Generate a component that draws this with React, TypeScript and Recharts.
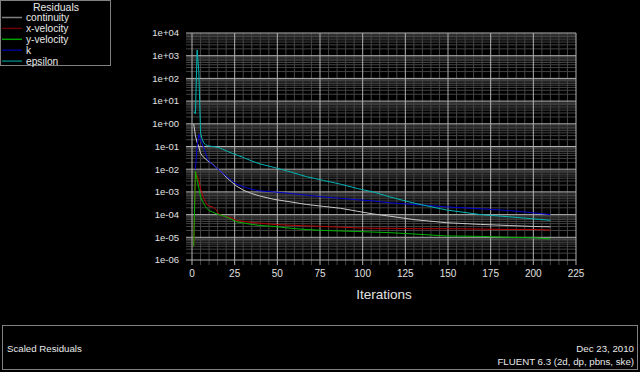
import React from 'react';
import { LineChart, Line, XAxis, YAxis, ReferenceLine, Label } from 'recharts';

const iterations = [1, 2, 3, 4, 5, 6, 7, 8, 9, 10, 12, 14, 16, 18, 20, 23, 26, 30, 35, 40, 48, 58, 67, 77, 87, 97, 106, 116, 130, 149, 169, 186, 200, 210];
const continuity = [1.0, 0.3, 0.15, 0.1, 0.05, 0.04, 0.032, 0.028, 0.024, 0.021, 0.017, 0.012, 0.009, 0.0065, 0.0045, 0.0028, 0.0018, 0.0012, 0.00085, 0.00065, 0.00047, 0.00036, 0.00028, 0.00023, 0.00019, 0.00014, 0.000107, 0.000085, 0.00006, 0.000044, 0.000037, 0.000033, 0.00003, 0.000029];
const xVelocity = [4e-6, 0.0078, 0.005, 0.0033, 0.0014, 0.0008, 0.0005, 0.00035, 0.00026, 0.00024, 0.00022, 0.00017, 0.0001, 0.00009, 0.00008, 0.000074, 0.000056, 0.00005, 0.000045, 0.000042, 0.000037, 0.000034, 0.000032, 0.00003, 0.000028, 0.000026, 0.000025, 0.000025, 0.000024, 0.000024, 0.000023, 0.000022, 0.000022, 0.000021];
const yVelocity = [4e-6, 0.008, 0.0035, 0.0015, 0.0006, 0.0004, 0.0003, 0.00022, 0.00018, 0.00015, 0.00013, 0.00011, 0.0001, 0.00009, 0.00008, 0.000062, 0.000048, 0.000043, 0.000037, 0.000033, 0.00003, 0.000025, 0.000022, 0.00002, 0.000019, 0.000018, 0.000017, 0.000016, 0.000014, 0.0000115, 0.000011, 0.00001, 0.0000095, 0.0000085];
const kValues = [null, 0.01, 0.1, 0.35, 0.2, 0.13, 0.085, 0.05, 0.03, 0.022, 0.016, 0.012, 0.009, 0.0066, 0.005, 0.0033, 0.0022, 0.0017, 0.0013, 0.0011, 0.001, 0.00085, 0.00072, 0.0006, 0.00052, 0.00045, 0.0004, 0.00033, 0.00028, 0.00022, 0.00018, 0.00015, 0.00012, 0.0001];
const epsilon = [3.5, 2.8, 1800, 200, 0.4, 0.2, 0.14, 0.12, 0.11, 0.105, 0.1, 0.095, 0.088, 0.075, 0.065, 0.052, 0.043, 0.033, 0.023, 0.017, 0.012, 0.0075, 0.0047, 0.0032, 0.0022, 0.0014, 0.001, 0.0006, 0.00032, 0.00016, 0.0001, 0.00008, 0.000065, 0.000056];

const seriesNames = ['continuity', 'x-velocity', 'y-velocity', 'k', 'epsilon'];
const seriesValues = [continuity, xVelocity, yVelocity, kValues, epsilon];
const seriesColors = ['#c8c8c8', '#b40000', '#00b400', '#0000d0', '#00b4b4'];
const legendColors = ['#808080', '#6a0000', '#00a000', '#000090', '#007878'];

const xTicks = [0, 25, 50, 75, 100, 125, 150, 175, 200, 225];
const xMinor = Array.from({ length: 46 }, (_, i) => i * 5).filter((v) => v % 25 !== 0);
const yTicks = [1e-6, 1e-5, 1e-4, 1e-3, 1e-2, 1e-1, 1e0, 1e1, 1e2, 1e3, 1e4];
const yMinor: number[] = [];
yTicks.slice(0, -1).forEach((d) => {
  for (let m = 2; m <= 9; m++) yMinor.push(d * m);
});

const data = iterations.map((it, i) => {
  const row: Record<string, number | null> = { iter: it };
  seriesNames.forEach((n, s) => {
    row[n] = seriesValues[s][i];
  });
  return row;
});

const fmt = (v: number) => {
  const e = Math.round(Math.log10(v));
  return `1e${e < 0 ? '-' : '+'}${String(Math.abs(e)).padStart(2, '0')}`;
};

const FONT = '"Liberation Sans", Arial, sans-serif';
const MAJOR = '#b0b0b0';
const MINOR = '#444444';

export default function App() {
  return (
    <div style={{ position: 'absolute', left: 0, top: 0, width: 640, height: 372, background: '#000', overflow: 'hidden' }}>
      <LineChart
        width={640}
        height={372}
        data={data}
        margin={{ top: 33, right: 64, bottom: 82, left: 132 }}
        style={{ position: 'absolute', left: 0, top: 0 }}
      >
        <XAxis
          dataKey="iter"
          type="number"
          domain={[0, 225]}
          ticks={xTicks}
          allowDataOverflow
          axisLine={false}
          tickLine={false}
          tickSize={6}
          tickMargin={4}
          height={30}
          tick={{ fill: '#e0e0e0', fontSize: 10, fontFamily: FONT }}
        >
          <Label value="Iterations" position="insideBottom" offset={-9} fill="#e0e0e0" fontSize={13.5} fontFamily={FONT} />
        </XAxis>
        <YAxis
          type="number"
          scale="log"
          domain={[1e-6, 1e4]}
          ticks={yTicks}
          allowDataOverflow
          axisLine={false}
          tickLine={false}
          tickSize={6}
          tickMargin={7}
          width={60}
          tickFormatter={fmt}
          tick={{ fill: '#e0e0e0', fontSize: 9.5, fontFamily: FONT }}
        />
        {yMinor.map((v) => (
          <ReferenceLine key={`ym${v}`} segment={[{ x: -3.5, y: v }, { x: 225, y: v }]} ifOverflow="visible" stroke={MINOR} strokeWidth={1} zIndex={-60} />
        ))}
        {xMinor.map((v) => (
          <ReferenceLine key={`xm${v}`} segment={[{ x: v, y: 6e-7 }, { x: v, y: 1e4 }]} ifOverflow="visible" stroke={MINOR} strokeWidth={1} zIndex={-60} />
        ))}
        {yTicks.map((v) => (
          <ReferenceLine key={`yM${v}`} segment={[{ x: -3.5, y: v }, { x: 225, y: v }]} ifOverflow="visible" stroke={MAJOR} strokeWidth={1} zIndex={-50} />
        ))}
        {xTicks.map((v) => (
          <ReferenceLine key={`xM${v}`} segment={[{ x: v, y: 6e-7 }, { x: v, y: 1e4 }]} ifOverflow="visible" stroke={MAJOR} strokeWidth={1} zIndex={-50} />
        ))}
        {seriesNames.map((n, i) => (
          <Line
            key={n}
            dataKey={n}
            type="linear"
            stroke={seriesColors[i]}
            strokeWidth={1}
            dot={false}
            activeDot={false}
            connectNulls
            isAnimationActive={false}
          />
        ))}
      </LineChart>
      <svg width={640} height={372} style={{ position: 'absolute', left: 0, top: 0, pointerEvents: 'none' }}>
        <rect x={0.5} y={0.5} width={110} height={65} fill="#000" stroke="#808080" strokeWidth={1} />
        <text x={56} y={11} textAnchor="middle" fill="#e8e8e8" fontSize={10.5} fontFamily={FONT}>Residuals</text>
        {seriesNames.map((n, i) => {
          const y = 17.5 + i * 10.9;
          return (
            <g key={n}>
              <line x1={2} x2={22} y1={y} y2={y} stroke={legendColors[i]} strokeWidth={1.5} />
              <text x={26} y={y + 3.5} fill="#e8e8e8" fontSize={10.2} fontFamily={FONT}>{n}</text>
            </g>
          );
        })}
        <rect x={2.5} y={325.5} width={635} height={44} fill="none" stroke="#808080" strokeWidth={1} />
        <text x={7} y={351.5} fill="#e8e8e8" fontSize={9.7} fontFamily={FONT}>Scaled Residuals</text>
        <text x={634} y={351.5} textAnchor="end" fill="#e8e8e8" fontSize={9.7} fontFamily={FONT}>Dec 23, 2010</text>
        <text x={634} y={364.5} textAnchor="end" fill="#e8e8e8" fontSize={9.7} fontFamily={FONT}>FLUENT 6.3 (2d, dp, pbns, ske)</text>
      </svg>
    </div>
  );
}
